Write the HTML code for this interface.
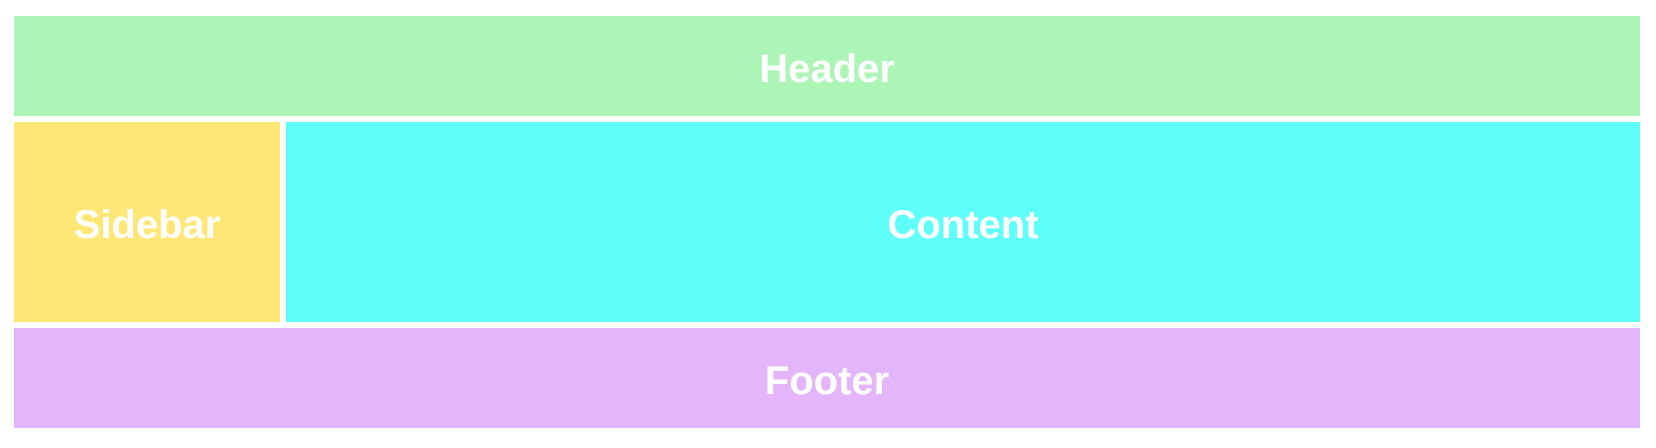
<!DOCTYPE html>
<html><head><style>
html,body{margin:0;padding:0;width:1656px;height:448px;background:#fff;overflow:hidden}
.b{position:absolute;display:flex;align-items:center;justify-content:center;color:#fff;font:bold 40px "Liberation Sans",Arial,sans-serif}
.b span{position:relative;top:3px}
</style></head><body>
<div class="b" style="left:14px;top:16px;width:1626px;height:100px;background:#adf5b7"><span>Header</span></div>
<div class="b" style="left:14px;top:122px;width:266px;height:200px;background:#ffe777"><span>Sidebar</span></div>
<div class="b" style="left:286px;top:122px;width:1354px;height:200px;background:#5ffffa"><span>Content</span></div>
<div class="b" style="left:14px;top:328px;width:1626px;height:100px;background:#e5b5fc"><span>Footer</span></div>
</body></html>
